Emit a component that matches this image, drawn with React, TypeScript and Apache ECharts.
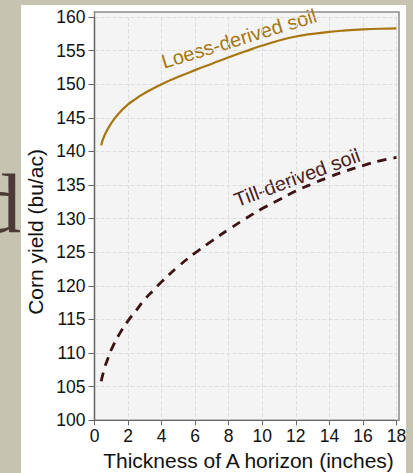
import React, { useEffect, useRef } from 'react';
import * as echarts from 'echarts';

const loessX = [0.4, 0.6, 1, 1.5, 2, 2.5, 3, 4, 5, 6, 7, 8, 9, 10, 11, 12, 13, 14, 15, 16, 17, 18];
const loessY = [140.9, 142.4, 144.2, 145.8, 147.0, 147.9, 148.7, 150.0, 151.1, 152.1, 153.05, 154.0, 154.9, 155.75, 156.5, 157.1, 157.5, 157.8, 158.0, 158.15, 158.25, 158.3];

const tillX = [0.4, 0.6, 0.8, 1, 1.5, 2, 2.5, 3, 3.5, 4, 5, 6, 7, 8, 9, 10, 11, 12, 13, 14, 15, 16, 17, 18];
const tillY = [105.8, 107.8, 109.2, 110.5, 112.9, 114.8, 116.4, 118.0, 119.3, 120.6, 122.9, 124.9, 126.7, 128.4, 130.0, 131.5, 132.8, 134.1, 135.2, 136.2, 137.1, 137.9, 138.6, 139.1];

const xMin = 0, xMax = 18, xStep = 2;
const yMin = 100, yMax = 160, yStep = 5;

const seriesNames = ['Loess-derived soil', 'Till-derived soil'];
const xTitle = 'Thickness of A horizon (inches)';
const yTitle = 'Corn yield (bu/ac)';

const FONT = '"Liberation Sans", Arial, sans-serif';

export default function App() {
  const ref = useRef<HTMLDivElement>(null);
  useEffect(() => {
    document.body.style.margin = '0';
    const chart = echarts.init(ref.current!, null, { renderer: 'svg' });
    const deg = Math.PI / 180;
    chart.setOption({
      animation: false,
      backgroundColor: '#c6c4b1',
      grid: { left: 94.5, right: 16.5, top: 17, bottom: 52.7 },
      xAxis: {
        type: 'value', min: xMin, max: xMax, interval: xStep,
        axisLine: { show: true, lineStyle: { color: '#666', width: 1.2 } },
        axisTick: { show: true, length: 5, lineStyle: { color: '#666' } },
        axisLabel: { color: '#111', fontSize: 17.5, fontFamily: FONT, margin: 7 },
        splitLine: { show: true, lineStyle: { color: '#dedede', type: [4, 2], width: 1 } },
      },
      yAxis: {
        type: 'value', min: yMin, max: yMax, interval: yStep,
        axisLine: { show: true, lineStyle: { color: '#666', width: 1.2 } },
        axisTick: { show: true, length: 6, lineStyle: { color: '#666' } },
        axisLabel: { color: '#111', fontSize: 17.5, fontFamily: FONT, margin: 9 },
        splitLine: { show: true, lineStyle: { color: '#dedede', type: [4, 2], width: 1 } },
      },
      graphic: [
        { type: 'text', z: -30, x: -21, y: 203, style: { text: 'd', font: '84px "Liberation Serif", serif', fill: '#4b3a35', verticalAlign: 'middle', align: 'left' } },
        { type: 'rect', z: -20, shape: { x: 21, y: 5, width: 385, height: 475 }, style: { fill: '#ffffff' } },
        { type: 'rect', z: -10, shape: { x: 94.5, y: 12, width: 304.5, height: 408.3 }, style: { fill: '#f4f4f4', stroke: '#8a8a8a', lineWidth: 1.5 } },
        { type: 'text', x: 35, y: 232, rotation: 90 * deg, style: { text: yTitle, font: '21px ' + FONT, fill: '#111', align: 'center', verticalAlign: 'middle' } },
        { type: 'text', x: 248.5, y: 460, style: { text: xTitle, font: '21px ' + FONT, fill: '#111', align: 'center', verticalAlign: 'middle' } },
        { type: 'text', x: 239, y: 38.5, rotation: 17 * deg, style: { text: seriesNames[0], font: '20px ' + FONT, fill: '#a8760f', align: 'center', verticalAlign: 'middle' } },
        { type: 'text', x: 297, y: 177.5, rotation: 20.5 * deg, style: { text: seriesNames[1], font: '20px ' + FONT, fill: '#4a1c1c', align: 'center', verticalAlign: 'middle' } },
      ],
      series: [
        {
          name: seriesNames[0], type: 'line', smooth: true, showSymbol: false,
          data: loessX.map((x, i) => [x, loessY[i]]),
          lineStyle: { color: '#a8760f', width: 2.2 },
        },
        {
          name: seriesNames[1], type: 'line', smooth: true, showSymbol: false,
          data: tillX.map((x, i) => [x, tillY[i]]),
          lineStyle: { color: '#3e1214', width: 2.8, type: [9, 7], cap: 'butt' },
        },
      ],
    });
    return () => chart.dispose();
  }, []);
  return <div ref={ref} style={{ width: 413, height: 473 }} />;
}
